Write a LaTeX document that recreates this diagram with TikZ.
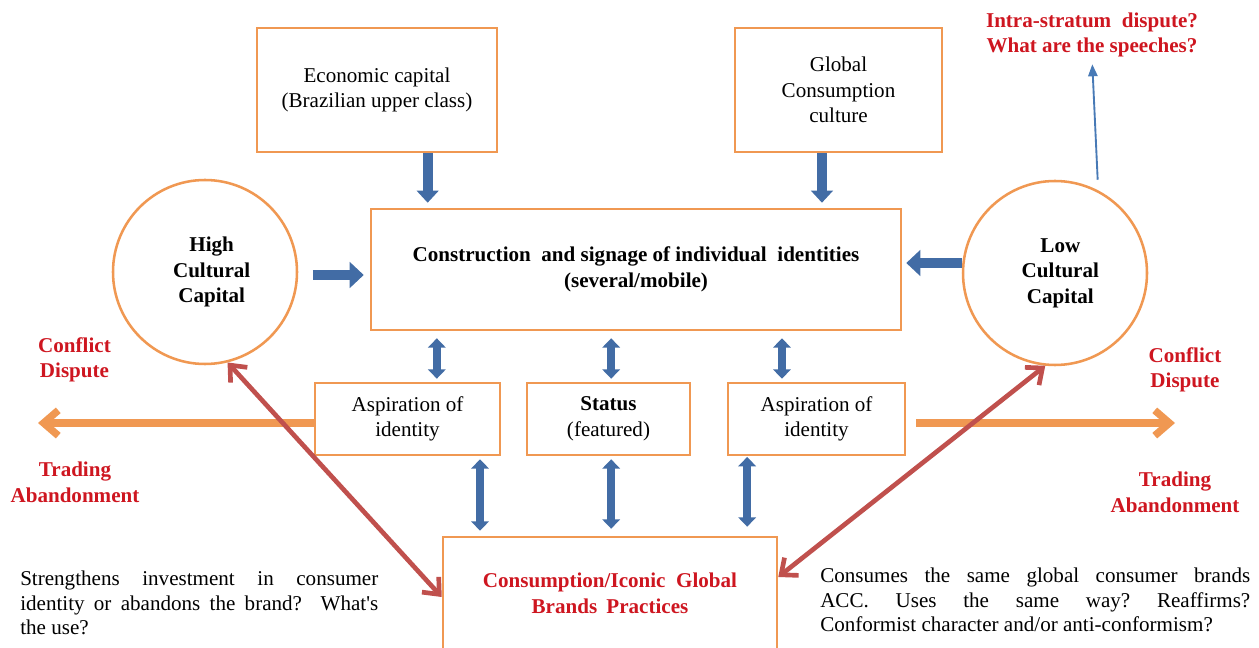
\documentclass[tikz,border=0pt]{standalone}
\usepackage{fontspec}
\setmainfont{Liberation Serif}
\usetikzlibrary{arrows.meta,calc}
\definecolor{boxorange}{RGB}{240,152,82}
\definecolor{arrowblue}{RGB}{66,108,165}
\definecolor{darkred}{RGB}{192,80,77}
\definecolor{labelred}{RGB}{206,22,32}
\definecolor{thinblue}{RGB}{72,122,182}
\newcommand\fsz{\fontsize{15.8}{19.2}\selectfont}
\newcommand\psz{\fontsize{15.8}{18.4}\selectfont\frenchspacing}
\begin{document}
\begin{tikzpicture}[x=0.75pt,y=-0.75pt,font=\fsz,
  box/.style={draw=boxorange,line width=1.9pt,fill=white,align=center,inner sep=2pt},
  circ/.style={circle,draw=boxorange,line width=1.9pt,fill=white,minimum size=138pt,align=center,inner sep=0pt,font=\fsz\bfseries},
  bigblue/.style={draw=arrowblue,line width=7.5pt,-{Triangle[width=16pt,length=9pt]}},
  sideblue/.style={draw=arrowblue,line width=7.5pt,-{Triangle[width=19pt,length=10.5pt]}},
  dblblue/.style={draw=arrowblue,line width=6pt,{Triangle[width=13pt,length=7pt]}-{Triangle[width=13pt,length=7pt]}},
  orangearrow/.style={draw=boxorange,line width=5.5pt,-{Straight Barb[length=11pt,width=19pt]}},
  redarrow/.style={draw=darkred,line width=3.5pt,{Straight Barb[length=10pt,width=17pt]}-{Straight Barb[length=10pt,width=17pt]}},
  redlabel/.style={text=labelred,font=\fsz\bfseries,align=center,inner sep=0pt},
  para/.style={font=\psz,align=justify,inner sep=0pt}]
\useasboundingbox (0,0) rectangle (1259,648);
\clip (0,0) rectangle (1259,648);

% boxes
\node[box,minimum width=180pt,minimum height=93pt] (econ) at (377,90) {Economic capital\\(Brazilian upper class)};
\node[box,minimum width=155.25pt,minimum height=93pt] (global) at (838.5,90) {Global\\Consumption\\culture};
\node[box,minimum width=397.5pt,minimum height=90.75pt,font=\fsz\bfseries] (central) at (636,269.5) {Construction\hspace{4pt} and signage of individual\hspace{4pt} identities\\(several/mobile)};
\node[circ] (high) at (205,272) {\hspace{10pt}High\\\hspace{10pt}Cultural\\\hspace{10pt}Capital};
\node[circ] (low) at (1055,273) {\hspace{8pt}Low\\\hspace{8pt}Cultural\\\hspace{8pt}Capital};
\node[box,minimum width=138.75pt,minimum height=54pt] (asp1) at (407.5,419) {Aspiration of\\identity};
\node[box,minimum width=122.25pt,minimum height=54pt] (status) at (608.5,419) {\textbf{Status}\\(featured)};
\node[box,minimum width=132.75pt,minimum height=54pt] (asp2) at (816.5,419) {Aspiration of\\identity};
\node[box,minimum width=250.5pt,minimum height=84pt,text=labelred,font=\fsz\bfseries] (practices) at (610,593) {Consumption/Iconic\hspace{4pt} Global\\Brands\hspace{3pt} Practices};

% labels
\node[redlabel] (cd1) at (74.5,360) {Conflict\\Dispute};
\node[redlabel] (ta1) at (75,482) {Trading\\Abandonment};
\node[redlabel] (cd2) at (1185,370) {Conflict\\Dispute};
\node[redlabel] (ta2) at (1175,492) {Trading\\Abandonment};
\node[redlabel] (intra) at (1092,35) {Intra-stratum\hspace{4pt} dispute?\\What are the speeches?};

\node[para,text width=268.5pt,anchor=west] (pl) at (20,603) {Strengthens investment in consumer\linebreak identity or abandons the brand?\ \ What\textquotesingle s\linebreak the use?};
\node[para,text width=322.5pt,anchor=west] (pr) at (820,600) {Consumes the same global consumer brands\linebreak ACC. Uses the same way? Reaffirms?\linebreak Conformist character and/or anti-conformism?};

% blue block arrows
\coordinate (e1) at ([xshift=38pt]econ.south);
\draw[bigblue,shorten >=3.75pt] (e1) -- (e1 |- central.north);
\coordinate (g1) at ([xshift=-12.4pt]global.south);
\draw[bigblue,shorten >=3.75pt] (g1) -- (g1 |- central.north);
\coordinate (h1) at ([xshift=11pt,yshift=-2.25pt]high.east);
\draw[sideblue,shorten >=4.5pt] (h1) -- (h1 -| central.west);
\coordinate (l1) at ([yshift=7.5pt]low.west);
\draw[sideblue,shorten >=3pt] (l1) -- (l1 -| central.east);

% double arrows
\coordinate (u1) at ([xshift=22pt]asp1.north);
\draw[dblblue,shorten <=5.25pt,shorten >=2.25pt] (u1 |- central.south) -- (u1);
\coordinate (u2) at ([xshift=2pt]status.north);
\draw[dblblue,shorten <=5.25pt,shorten >=2.25pt] (u2 |- central.south) -- (u2);
\coordinate (u3) at ([xshift=-25.9pt]asp2.north);
\draw[dblblue,shorten <=5.25pt,shorten >=2.25pt] (u3 |- central.south) -- (u3);
\coordinate (d1) at ([xshift=54.4pt]asp1.south);
\draw[dblblue,shorten <=2.25pt,shorten >=3.75pt] (d1) -- (d1 |- practices.north);
\coordinate (d2) at ([xshift=2pt]status.south);
\draw[dblblue,shorten <=2.25pt,shorten >=5.25pt] (d2) -- (d2 |- practices.north);
\coordinate (d3) at ([xshift=-52pt]asp2.south);
\draw[dblblue,shorten <=0.5pt,shorten >=6.75pt] (d3) -- (d3 |- practices.north);

% orange arrows
\coordinate (oL) at (38,423);
\coordinate (oR) at (1175,423);
\draw[orangearrow] ([yshift=-3pt]asp1.west) -- (oL);
\draw[orangearrow] ([xshift=7.5pt,yshift=-3pt]asp2.east) -- (oR);

% red arrows
\draw[redarrow] ([yshift=-3pt]practices.west) -- (high.-76);
\draw[redarrow] ([yshift=12pt]practices.east) -- (low.-96);

% thin blue arrow
\coordinate (t1) at ([xshift=32pt]low.north);
\draw[thinblue,line width=1.4pt,-{Triangle[width=7pt,length=9pt]},shorten >=5pt] (t1) -- (intra.south);
\end{tikzpicture}
\end{document}
